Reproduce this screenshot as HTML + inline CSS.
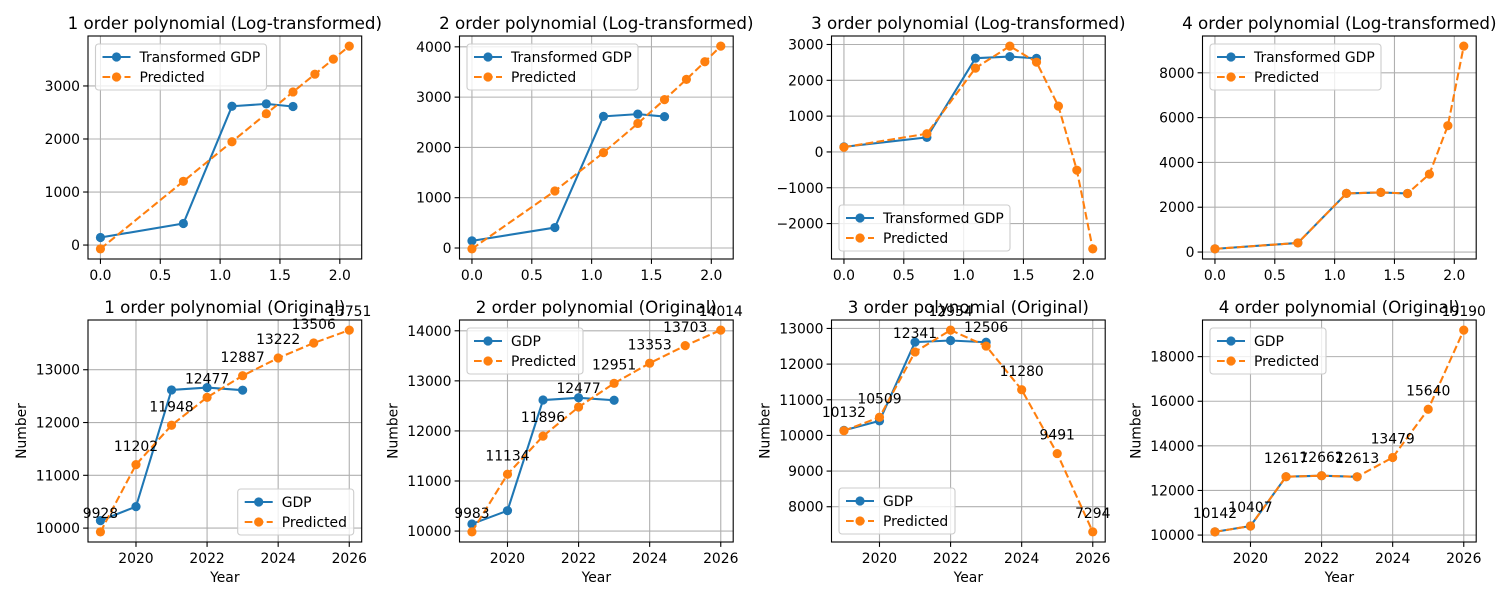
<!DOCTYPE html>
<html><head><meta charset="utf-8"><style>
html,body{margin:0;padding:0;background:#fff;}
svg{display:block;font-family:"DejaVu Sans","Liberation Sans",sans-serif;}
</style></head>
<body>
<svg id="fig" width="1500" height="600" viewBox="0 0 1500 600" xmlns="http://www.w3.org/2000/svg"></svg>
<script>
const xLog = [0, 0.693, 1.099, 1.386, 1.609, 1.792, 1.946, 2.079];
const years = [2019, 2020, 2021, 2022, 2023, 2024, 2025, 2026];
const gdp = [10142, 10407, 12617, 12662, 12613];
const gdpT = [142, 407, 2617, 2662, 2613];
const predOrig1 = [9928, 11202, 11948, 12477, 12887, 13222, 13506, 13751];
const predOrig2 = [9983, 11134, 11896, 12477, 12951, 13353, 13703, 14014];
const predOrig3 = [10132, 10509, 12341, 12954, 12506, 11280, 9491, 7294];
const predOrig4 = [10142, 10407, 12617, 12662, 12613, 13479, 15640, 19190];
const predLog1 = [-72, 1202, 1948, 2477, 2887, 3222, 3506, 3751];
const predLog2 = [-17, 1134, 1896, 2477, 2951, 3353, 3703, 4014];
const predLog3 = [132, 509, 2341, 2954, 2506, 1280, -509, -2706];
const predLog4 = [142, 407, 2617, 2662, 2613, 3479, 5640, 9190];
const xTicksLog = [0, 0.5, 1.0, 1.5, 2.0];
const xTickLabelsLog = ["0.0", "0.5", "1.0", "1.5", "2.0"];
const xTicksYear = [2020, 2022, 2024, 2026];
const yTicksLog1 = [0, 1000, 2000, 3000];
const yTicksLog2 = [0, 1000, 2000, 3000, 4000];
const yTicksLog3 = [-2000, -1000, 0, 1000, 2000, 3000];
const yTicksLog4 = [0, 2000, 4000, 6000, 8000];
const yTicksOrig1 = [10000, 11000, 12000, 13000];
const yTicksOrig2 = [10000, 11000, 12000, 13000, 14000];
const yTicksOrig3 = [8000, 9000, 10000, 11000, 12000, 13000];
const yTicksOrig4 = [10000, 12000, 14000, 16000, 18000];

const NS = "http://www.w3.org/2000/svg";
const fig = document.getElementById("fig");
function mk(tag, attrs, parent) {
  const e = document.createElementNS(NS, tag);
  for (const k in attrs) e.setAttribute(k, attrs[k]);
  (parent || fig).appendChild(e);
  return e;
}
const BLUE = "#1f77b4", ORANGE = "#ff7f0e";
const MR = 4.6;
const lefts = [88, 459.5, 831.5, 1202.5];
const W = 273.7;
const rows = [{top: 36, bot: 259}, {top: 320, bot: 542}];

function lims(arrs) {
  let mn = Infinity, mx = -Infinity;
  arrs.forEach(a => a.forEach(v => { mn = Math.min(mn, v); mx = Math.max(mx, v); }));
  const m = (mx - mn) * 0.05;
  return [mn - m, mx + m];
}

function fmtMinus(v) { return String(v).replace("-", "\u2212"); }

function panel(o) {
  const g = mk("g", {});
  
  
  const L = o.left, R = o.left + W, T = o.top, B = o.bot;
  const [x0, x1] = lims([o.xs]);
  const [y0, y1] = lims([o.actual, o.pred]);
  const sx = v => L + (v - x0) / (x1 - x0) * (R - L);
  const sy = v => B - (v - y0) / (y1 - y0) * (B - T);
  o.xTicks.forEach((t, i) => {
    const ln = mk("line", {x1: sx(t), x2: sx(t), y1: T, y2: B, stroke: "#b0b0b0", "stroke-width": 1.1}, g);
    
    
    const tk = mk("line", {x1: sx(t), x2: sx(t), y1: B, y2: B + 4.9, stroke: "#000", "stroke-width": 1.1}, g);
    
    
    const tx = mk("text", {x: sx(t), y: B + 21, "font-size": 13.9, "text-anchor": "middle", fill: "#000"}, g);
    tx.textContent = o.xLabels ? o.xLabels[i] : String(t);
    
    
  });
  o.yTicks.forEach(t => {
    const ln = mk("line", {x1: L, x2: R, y1: sy(t), y2: sy(t), stroke: "#b0b0b0", "stroke-width": 1.1}, g);
    
    
    const tk = mk("line", {x1: L - 4.9, x2: L, y1: sy(t), y2: sy(t), stroke: "#000", "stroke-width": 1.1}, g);
    
    
    const tx = mk("text", {x: L - 8, y: sy(t) + 5, "font-size": 13.9, "text-anchor": "end", fill: "#000"}, g);
    tx.textContent = fmtMinus(t);
    
    
  });
  const ap = o.actual.map((v, i) => sx(o.xs[i]) + "," + sy(v)).join(" ");
  const al = mk("polyline", {points: ap, fill: "none", stroke: BLUE, "stroke-width": 2.08, "stroke-linejoin": "round"}, g);
  
  
  o.actual.forEach((v, i) => {
    const c = mk("circle", {cx: sx(o.xs[i]), cy: sy(v), r: MR, fill: BLUE}, g);
    
    
  });
  const pp = o.pred.map((v, i) => sx(o.xs[i]) + "," + sy(v)).join(" ");
  const pl = mk("polyline", {points: pp, fill: "none", stroke: ORANGE, "stroke-width": 2.08, "stroke-dasharray": "7.7,3.3"}, g);
  
  
  o.pred.forEach((v, i) => {
    const c = mk("circle", {cx: sx(o.xs[i]), cy: sy(v), r: MR, fill: ORANGE}, g);
    
    
    if (o.annotate) {
      const t = mk("text", {x: sx(o.xs[i]), y: sy(v) - 13.9, "font-size": 13.9, "text-anchor": "middle", fill: "#000"}, g);
      t.textContent = String(v);
      
      
    }
  });
  const sp = mk("rect", {x: L, y: T, width: R - L, height: B - T, fill: "none", stroke: "#000", "stroke-width": 1.1}, g);
  
  
  const ti = mk("text", {x: (L + R) / 2, y: T - 7, "font-size": 16.7, "text-anchor": "middle", fill: "#000"}, g);
  ti.textContent = o.title;
  
  
  if (o.xlabel) {
    const xl = mk("text", {x: (L + R) / 2, y: B + 40, "font-size": 13.9, "text-anchor": "middle", fill: "#000"}, g);
    xl.textContent = o.xlabel;
    
    
  }
  if (o.ylabel) {
    const cx = L - 62, cy = (T + B) / 2;
    const yl = mk("text", {x: cx, y: cy, "font-size": 13.9, "text-anchor": "middle", fill: "#000", transform: "rotate(-90 " + cx + " " + cy + ")"}, g);
    yl.textContent = o.ylabel;
    
    
  }
  const lw = o.label1.length > 5 ? 171 : 116, lh = 46;
  let lx, ly;
  if (o.loc === "ul") { lx = L + 7.5; ly = T + 8; }
  else if (o.loc === "ll") { lx = L + 7.5; ly = B - 8 - lh; }
  else { lx = R - 8 - lw; ly = B - 7 - lh; }
  const lg = mk("g", {}, g);
  
  
  mk("rect", {x: lx, y: ly, width: lw, height: lh, rx: 3, fill: "#fff", "fill-opacity": 0.8, stroke: "#cccccc", "stroke-width": 1.1}, lg);
  [[o.label1, BLUE, null], ["Predicted", ORANGE, "7.7,3.3"]].forEach((e, k) => {
    const ey = ly + 13 + k * 20;
    const eg = mk("g", {}, lg);
    
    
    const a = {x1: lx + 7, x2: lx + 35, y1: ey, y2: ey, stroke: e[1], "stroke-width": 2.08};
    if (e[2]) a["stroke-dasharray"] = e[2];
    mk("line", a, eg);
    mk("circle", {cx: lx + 21, cy: ey, r: MR, fill: e[1]}, eg);
    const t = mk("text", {x: lx + 44, y: ey + 5, "font-size": 13.9, fill: "#000"}, eg);
    t.textContent = e[0];
  });
}

const topPreds = [predLog1, predLog2, predLog3, predLog4];
const botPreds = [predOrig1, predOrig2, predOrig3, predOrig4];
const topYT = [yTicksLog1, yTicksLog2, yTicksLog3, yTicksLog4];
const botYT = [yTicksOrig1, yTicksOrig2, yTicksOrig3, yTicksOrig4];
const topLoc = ["ul", "ul", "ll", "ul"];
const botLoc = ["lr", "ul", "ll", "ul"];
for (let i = 0; i < 4; i++) {
  panel({name: "panel-log-order-" + (i + 1), left: lefts[i], top: rows[0].top, bot: rows[0].bot,
    xs: xLog, actual: gdpT, pred: topPreds[i], xTicks: xTicksLog, xLabels: xTickLabelsLog,
    yTicks: topYT[i], title: (i + 1) + " order polynomial (Log-transformed)",
    label1: "Transformed GDP", loc: topLoc[i], annotate: false});
  panel({name: "panel-original-order-" + (i + 1), left: lefts[i], top: rows[1].top, bot: rows[1].bot,
    xs: years, actual: gdp, pred: botPreds[i], xTicks: xTicksYear, yTicks: botYT[i],
    title: (i + 1) + " order polynomial (Original)", xlabel: "Year", ylabel: "Number",
    label1: "GDP", loc: botLoc[i], annotate: true});
}
</script>
</body></html>
